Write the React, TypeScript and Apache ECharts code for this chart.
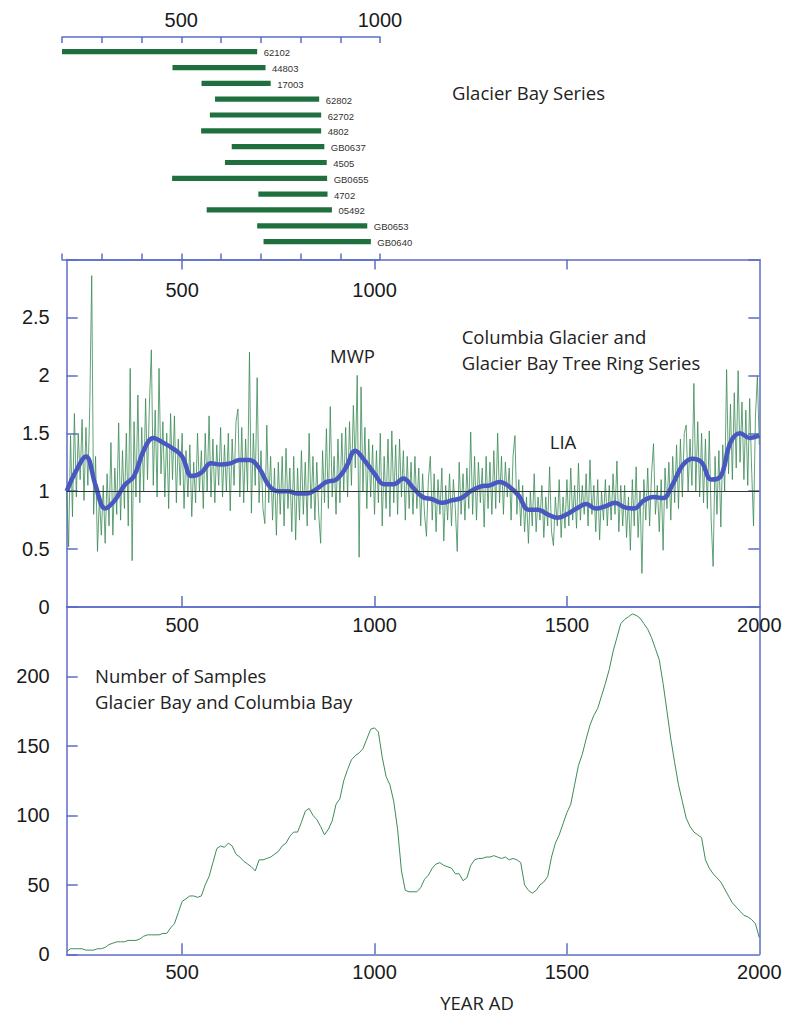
import React, { useEffect, useRef } from 'react';
import * as echarts from 'echarts';

// ---- Top panel: Glacier Bay series (span of years) ----
const barNames = ['62102', '44803', '17003', '62802', '62702', '4802', 'GB0637', '4505', 'GB0655', '4702', '05492', 'GB0653', 'GB0640'];
const barStart = [200, 478, 551, 585, 572, 550, 627, 610, 477, 694, 564, 691, 707];
const barEnd = [691, 712, 725, 847, 852, 852, 860, 866, 867, 868, 879, 968, 977];

// ---- Middle panel: tree ring index, every 5 years from 200 AD ----
const ringStartYear = 200;
const ringStep = 5;
const ringIndex = [
  1.00, 0.52, 1.48, 0.78, 1.67, 0.95, 1.50, 1.10, 1.62, 0.92,
  1.55, 1.05, 1.74, 2.86, 0.80, 1.30, 0.48, 0.95, 0.62, 1.05,
  0.55, 1.15, 0.70, 1.42, 0.62, 1.20, 0.80, 1.59, 0.75, 1.35,
  0.85, 1.50, 0.70, 2.06, 0.40, 1.60, 0.95, 1.83, 0.90, 1.55,
  1.00, 1.80, 1.10, 1.75, 2.22, 1.05, 1.70, 0.95, 2.06, 1.15,
  1.60, 0.95, 1.50, 0.85, 1.67, 1.10, 1.65, 0.90, 1.45, 1.05,
  1.50, 0.85, 1.35, 0.95, 1.40, 0.78, 1.25, 0.90, 1.50, 1.00,
  1.35, 0.85, 1.50, 1.00, 1.65, 0.95, 1.45, 0.90, 1.40, 1.05,
  1.55, 0.95, 1.40, 1.00, 1.50, 0.83, 1.45, 1.05, 1.60, 1.71,
  0.95, 1.55, 0.90, 1.45, 1.00, 2.20, 0.81, 1.50, 1.05, 1.98,
  0.90, 1.35, 0.85, 0.72, 1.57, 0.90, 1.30, 0.75, 1.20, 0.62,
  1.25, 0.80, 1.30, 0.70, 1.37, 0.85, 1.20, 0.65, 1.30, 0.58,
  1.20, 0.75, 1.35, 0.80, 1.25, 0.70, 1.50, 0.85, 1.30, 0.75,
  1.25, 0.80, 0.55, 1.35, 0.90, 1.54, 0.85, 1.73, 0.95, 1.30,
  0.80, 1.45, 0.90, 1.50, 1.00, 1.55, 0.95, 1.60, 1.05, 1.74,
  1.20, 2.00, 0.43, 1.90, 1.00, 1.55, 0.85, 1.45, 0.95, 1.40,
  0.80, 1.35, 0.90, 1.50, 0.70, 1.30, 0.85, 1.45, 0.78, 1.52,
  0.90, 1.40, 0.80, 1.45, 0.95, 1.35, 0.75, 1.30, 0.85, 1.25,
  0.80, 1.30, 0.85, 1.20, 0.70, 1.15, 0.80, 0.61, 1.10, 1.30,
  0.75, 1.15, 0.65, 1.10, 0.80, 1.20, 0.57, 1.05, 0.75, 1.15,
  0.70, 1.10, 0.85, 0.48, 1.25, 0.80, 1.15, 0.75, 1.20, 0.85,
  1.51, 0.80, 1.30, 0.75, 1.25, 0.90, 1.20, 0.69, 1.30, 0.85,
  1.25, 0.80, 1.35, 0.85, 1.50, 0.90, 1.30, 0.80, 1.25, 0.95,
  1.20, 0.75, 1.30, 1.48, 0.80, 1.10, 0.70, 1.05, 0.65, 0.95,
  0.55, 1.00, 0.70, 1.15, 0.65, 0.95, 0.75, 1.05, 0.60, 0.95,
  0.70, 1.21, 0.65, 0.53, 0.95, 0.70, 1.10, 0.60, 0.95, 0.68,
  1.10, 0.70, 1.20, 0.75, 1.05, 0.68, 1.24, 0.75, 1.05, 0.80,
  1.15, 0.70, 1.27, 0.80, 1.05, 0.65, 1.10, 0.58, 1.00, 0.75,
  1.10, 0.70, 1.05, 0.75, 1.15, 0.80, 1.26, 0.65, 1.05, 0.70,
  1.05, 0.60, 0.95, 0.49, 1.10, 0.70, 1.21, 0.60, 1.00, 0.29,
  1.10, 0.75, 1.20, 0.70, 1.15, 1.41, 0.80, 1.05, 0.65, 1.10,
  0.49, 1.20, 0.85, 1.25, 0.75, 1.30, 0.90, 1.40, 0.85, 1.45,
  0.95, 1.50, 1.57, 1.00, 1.45, 1.05, 1.93, 1.00, 1.60, 0.95,
  1.50, 0.90, 1.45, 0.85, 1.52, 0.75, 0.35, 1.30, 0.80, 1.35,
  0.69, 1.40, 1.00, 2.05, 1.15, 1.75, 1.10, 1.85, 1.20, 2.04,
  1.25, 1.77, 1.10, 1.70, 1.05, 1.80, 1.20, 0.70, 1.65, 1.99,
  1.40,
];

// smoothed curve
const smoothYears = [200, 225, 250, 275, 300, 325, 350, 375, 400, 425, 450, 475, 500, 525, 550, 575, 600, 625, 650, 675, 700, 725, 750, 775, 800, 825, 850, 875, 900, 925, 950, 975, 1000, 1025, 1050, 1075, 1100, 1125, 1150, 1175, 1200, 1225, 1250, 1275, 1300, 1325, 1350, 1375, 1400, 1425, 1450, 1475, 1500, 1525, 1550, 1575, 1600, 1625, 1650, 1675, 1700, 1725, 1750, 1775, 1800, 1825, 1850, 1875, 1900, 1925, 1950, 1975, 2000];
const smoothValues = [1.0, 1.18, 1.30, 1.05, 0.85, 0.92, 1.05, 1.13, 1.35, 1.46, 1.42, 1.37, 1.30, 1.13, 1.16, 1.24, 1.23, 1.24, 1.27, 1.27, 1.20, 1.05, 1.00, 1.00, 0.98, 0.98, 1.02, 1.08, 1.10, 1.20, 1.35, 1.26, 1.15, 1.06, 1.06, 1.11, 1.03, 0.95, 0.93, 0.90, 0.92, 0.94, 1.00, 1.04, 1.05, 1.08, 1.04, 0.96, 0.84, 0.84, 0.80, 0.77, 0.80, 0.85, 0.89, 0.85, 0.87, 0.90, 0.86, 0.85, 0.92, 0.95, 0.94, 1.06, 1.22, 1.28, 1.25, 1.10, 1.13, 1.42, 1.50, 1.46, 1.48];

// ---- Bottom panel: number of samples, every 10 years from 200 AD ----
const sampleStartYear = 200;
const sampleStep = 10;
const sampleCounts = [
  2, 4, 4, 4, 4, 3, 3, 3, 4, 4,
  5, 7, 8, 9, 9, 9, 10, 10, 10, 11,
  13, 14, 14, 14, 14, 15, 15, 19, 22, 30,
  38, 40, 42, 42, 41, 42, 50, 56, 66, 76,
  78, 77, 80, 78, 72, 70, 67, 65, 63, 60,
  68, 68, 69, 70, 72, 74, 78, 80, 85, 88,
  88, 95, 103, 105, 100, 97, 92, 86, 90, 96,
  108, 112, 125, 133, 140, 143, 145, 148, 155, 162,
  163, 160, 142, 128, 122, 110, 90, 60, 46, 45,
  45, 45, 48, 54, 57, 62, 65, 66, 64, 63,
  62, 58, 58, 53, 55, 64, 68, 69, 69, 70,
  70, 71, 70, 69, 70, 68, 69, 68, 66, 50,
  46, 44, 46, 50, 52, 56, 70, 80, 86, 94,
  102, 108, 122, 136, 144, 155, 165, 172, 177, 186,
  195, 205, 218, 228, 238, 241, 243, 245, 244, 242,
  238, 234, 228, 220, 212, 195, 175, 155, 138, 122,
  110, 98, 92, 88, 86, 84, 68, 62, 58, 55,
  52, 47, 42, 37, 34, 31, 28, 27, 25, 22,
  12,
];

const topTickLabels = [500, 1000];
const midTickValues = [500, 1000, 1500];
const bottomTickLabels = [500, 1000, 1500, 2000];
const ringTickLabels = [0, 0.5, 1, 1.5, 2, 2.5];
const countTickLabels = [0, 50, 100, 150, 200];

const axisColor = '#5d6dc6';
const tickFont = {
  color: '#1a1a1a', fontSize: 20, fontFamily: 'Liberation Sans, Arial, sans-serif',
  formatter: (v: number) => String(v),
};
const noteFont = 'Open Sans, Noto Sans, sans-serif';

export default function App() {
  const ref = useRef<HTMLDivElement>(null);
  useEffect(() => {
    if (!ref.current) return;
    const chart = echarts.init(ref.current, undefined, { renderer: 'svg' });
    const line = { show: true, onZero: false, lineStyle: { color: axisColor, width: 1.5 } };
    const tick = (len: number, custom?: number[]) => ({
      show: true, inside: true, length: len, lineStyle: { color: axisColor, width: 1.5 },
      ...(custom ? { customValues: custom } : {}),
    });
    const noTick = { show: false };
    const noLabel = { show: false };
    const noSplit = { show: false };
    const note = (text: string, x: number, y: number, align = 'left') => ({
      type: 'text', x, y,
      style: { text, fontSize: 18.5, fontFamily: noteFont, fill: '#222', align, verticalAlign: 'middle' },
    });

    const option: any = {
      animation: false,
      grid: [
        { left: 62, top: 37, width: 318, height: 222.5 },
        { left: 66.7, top: 259.5, width: 692.6, height: 347.5 },
        { left: 66.7, top: 607, width: 692.6, height: 347.3 },
      ],
      xAxis: [
        { gridIndex: 0, type: 'value', position: 'top', min: 200, max: 1000, interval: 100,
          axisLine: line, axisTick: tick(6), splitLine: noSplit,
          axisLabel: { ...tickFont, customValues: topTickLabels, margin: 7 } },
        { gridIndex: 0, type: 'value', position: 'bottom', min: 200, max: 1000, interval: 100,
          axisLine: line, axisTick: tick(6), splitLine: noSplit, axisLabel: noLabel },
        { gridIndex: 1, type: 'value', position: 'top', min: 200, max: 2000,
          axisLine: line, axisTick: tick(10, midTickValues), splitLine: noSplit,
          axisLabel: { ...tickFont, customValues: topTickLabels, inside: true, margin: 20 } },
        { gridIndex: 1, type: 'value', position: 'bottom', min: 200, max: 2000,
          axisLine: line, axisTick: tick(11, midTickValues), splitLine: noSplit, axisLabel: noLabel },
        { gridIndex: 2, type: 'value', position: 'top', min: 200, max: 2000,
          axisLine: line, axisTick: noTick, splitLine: noSplit,
          axisLabel: { ...tickFont, customValues: bottomTickLabels, inside: true, margin: 8 } },
        { gridIndex: 2, type: 'value', position: 'bottom', min: 200, max: 2000,
          axisLine: line, axisTick: tick(11, midTickValues), splitLine: noSplit,
          axisLabel: { ...tickFont, customValues: bottomTickLabels, margin: 8 } },
      ],
      yAxis: [
        { gridIndex: 0, type: 'value', inverse: true, min: -0.93, max: 13.13, show: false },
        { gridIndex: 1, type: 'value', position: 'left', min: 0, max: 3, interval: 0.5,
          axisLine: line, axisTick: tick(11), splitLine: noSplit,
          axisLabel: { ...tickFont, customValues: ringTickLabels, margin: 17 } },
        { gridIndex: 1, type: 'value', position: 'right', min: 0, max: 3, interval: 0.5,
          axisLine: line, axisTick: tick(11), splitLine: noSplit, axisLabel: noLabel },
        { gridIndex: 2, type: 'value', position: 'left', min: 0, max: 250, interval: 50,
          axisLine: line, axisTick: tick(11), splitLine: noSplit,
          axisLabel: { ...tickFont, customValues: countTickLabels, margin: 17 } },
        { gridIndex: 2, type: 'value', position: 'right', min: 0, max: 250, interval: 50,
          axisLine: line, axisTick: noTick, splitLine: noSplit, axisLabel: noLabel },
      ],
      series: [
        {
          type: 'custom', xAxisIndex: 0, yAxisIndex: 0,
          data: barNames.map((_, i) => [i, barStart[i], barEnd[i]]),
          encode: { x: [1, 2], y: 0 },
          renderItem: (params: any, api: any) => {
            const i = api.value(0);
            const p0 = api.coord([api.value(1), i]);
            const p1 = api.coord([api.value(2), i]);
            return {
              type: 'group',
              children: [
                { type: 'rect', shape: { x: p0[0], y: p0[1] - 2.6, width: p1[0] - p0[0], height: 5.2 },
                  style: { fill: '#1f6f3f' } },
                { type: 'text', x: p1[0] + 6.5, y: p1[1] + 1,
                  style: { text: barNames[i], fill: '#333', fontSize: 9.5,
                    fontFamily: 'Liberation Sans, Arial, sans-serif', verticalAlign: 'middle', align: 'left' } },
              ],
            };
          },
        },
        {
          type: 'line', xAxisIndex: 2, yAxisIndex: 1, showSymbol: false, z: 2,
          data: ringIndex.map((v, i) => [ringStartYear + i * ringStep, v]),
          lineStyle: { color: '#3a8a55', width: 0.8 },
          markLine: {
            silent: true, symbol: 'none', label: { show: false },
            lineStyle: { color: '#333', width: 1, type: 'solid' },
            data: [{ yAxis: 1 }],
          },
        },
        {
          type: 'line', xAxisIndex: 2, yAxisIndex: 1, showSymbol: false, z: 3, smooth: 0.4,
          data: smoothYears.map((y, i) => [y, smoothValues[i]]),
          lineStyle: { color: '#4858c0', width: 4.5 },
        },
        {
          type: 'line', xAxisIndex: 5, yAxisIndex: 3, showSymbol: false,
          data: sampleCounts.map((v, i) => [sampleStartYear + i * sampleStep, v]),
          lineStyle: { color: '#3d8c58', width: 1 },
        },
      ],
      graphic: [
        note('Glacier Bay Series', 452, 92),
        note('MWP', 352.5, 355, 'center'),
        note('Columbia Glacier and', 461.7, 336),
        note('Glacier Bay Tree Ring Series', 461.7, 362.7),
        note('LIA', 563, 441.7, 'center'),
        note('Number of Samples', 95, 675),
        note('Glacier Bay and Columbia Bay', 95, 701),
        note('YEAR AD', 477, 1002, 'center'),
      ],
    };
    chart.setOption(option);
    return () => chart.dispose();
  }, []);
  return <div ref={ref} style={{ position: 'fixed', left: 0, top: 0, width: 786, height: 1015, background: '#fff' }} />;
}
